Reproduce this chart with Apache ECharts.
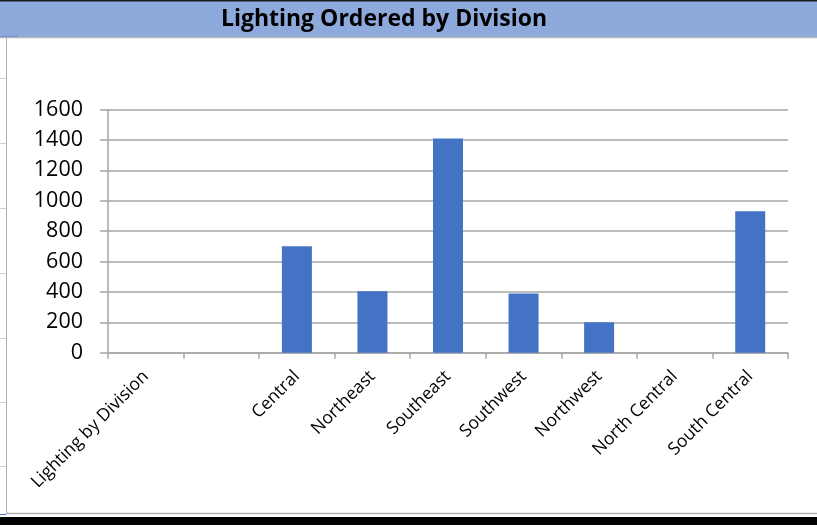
<!DOCTYPE html>
<html>
<head>
<meta charset="utf-8">
<script src="https://cdn.jsdelivr.net/npm/echarts@6/dist/echarts.min.js"></script>
<style>
  html, body { margin: 0; padding: 0; background: #fff; }
  #chart { width: 817px; height: 529px; }
</style>
</head>
<body>
<div id="chart"></div>
<script>
// Lighting counts per division
const titleText = 'Lighting Ordered by Division';
const categories = ['Lighting by Division', '', 'Central', 'Northeast', 'Southeast', 'Southwest', 'Northwest', 'North Central', 'South Central'];
const lightingCounts = [null, null, 700, 405, 1410, 390, 200, null, 930];
const yTicks = [0, 200, 400, 600, 800, 1000, 1200, 1400, 1600];

const chart = echarts.init(document.getElementById('chart'), null, { renderer: 'canvas' });
const FONT = '"Open Sans", "Liberation Sans", sans-serif';

// spreadsheet-like frame around the chart
const frame = [
  { type: 'rect', shape: { x: 0, y: 0, width: 817, height: 38 }, style: { fill: '#8EA9DB' }, silent: true, z: 0 },
  { type: 'rect', shape: { x: 0, y: 0, width: 817, height: 1.5 }, style: { fill: '#1a1a1a' }, silent: true, z: 1 },
  { type: 'line', shape: { x1: 0, y1: 37.5, x2: 817, y2: 37.5 }, style: { stroke: '#b8b8b8', lineWidth: 1.5 }, silent: true, z: 1 },
  { type: 'line', shape: { x1: 6.5, y1: 38, x2: 6.5, y2: 514 }, style: { stroke: '#b0b0b0', lineWidth: 1 }, silent: true, z: 1 },
  { type: 'line', shape: { x1: 6, y1: 513.5, x2: 817, y2: 513.5 }, style: { stroke: '#b0b0b0', lineWidth: 1.5 }, silent: true, z: 1 },
  { type: 'rect', shape: { x: 0, y: 517, width: 817, height: 8 }, style: { fill: '#000' }, silent: true, z: 1 },
  { type: 'line', shape: { x1: 0, y1: 36.5, x2: 18, y2: 36.5 }, style: { stroke: '#6f8fd0', lineWidth: 1 }, silent: true, z: 2 },
  { type: 'line', shape: { x1: 0, y1: 514.5, x2: 6, y2: 514.5 }, style: { stroke: '#4472C4', lineWidth: 1 }, silent: true, z: 2 }
];
[78, 143, 208, 273, 338, 402, 466].forEach(function (y) {
  frame.push({ type: 'line', shape: { x1: 0, y1: y + 0.5, x2: 6, y2: y + 0.5 }, style: { stroke: '#d4d4d4', lineWidth: 1 }, silent: true, z: 1 });
});
frame.push({
  type: 'text', x: 384, y: 19, z: 3,
  style: { text: titleText, font: 'bold 23px ' + FONT, fill: '#000', align: 'center', verticalAlign: 'middle' }
});

chart.setOption({
  animation: false,
  backgroundColor: '#fff',
  graphic: frame,
  grid: { left: 108, right: 29, top: 109.5, bottom: 176.3, containLabel: false },
  xAxis: {
    type: 'category',
    data: categories,
    boundaryGap: true,
    axisLine: { show: true, lineStyle: { color: '#a6a6a6', width: 1.5 } },
    axisTick: { show: true, length: 6, lineStyle: { color: '#a6a6a6', width: 1.5 } },
    axisLabel: { rotate: 45, margin: 21, interval: 0, color: '#000', fontFamily: FONT, fontSize: 17.5 }
  },
  yAxis: {
    type: 'value',
    min: yTicks[0],
    max: yTicks[yTicks.length - 1],
    interval: yTicks[1] - yTicks[0],
    axisLine: { show: true, lineStyle: { color: '#a6a6a6', width: 1.5 } },
    axisTick: { show: true, length: 8, lineStyle: { color: '#a6a6a6', width: 1.5 } },
    axisLabel: { margin: 25, color: '#000', fontFamily: FONT, fontSize: 21.5, formatter: function (v) { return String(v); } },
    splitLine: { show: true, lineStyle: { color: '#a6a6a6', width: 1.5 } }
  },
  series: [{
    type: 'bar',
    data: lightingCounts,
    barWidth: 30,
    itemStyle: { color: '#4472C4' }
  }]
});
</script>
</body>
</html>
